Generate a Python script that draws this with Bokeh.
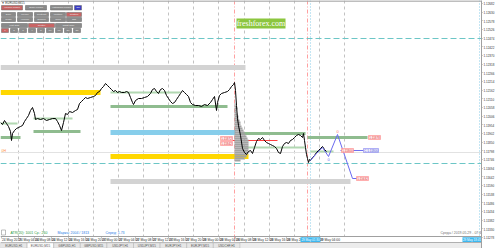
from bokeh.plotting import figure
from bokeh.models import FixedTicker, PrintfTickFormatter
from bokeh.embed import file_html
from bokeh.resources import INLINE

# ---------------- data (bar index, price) ----------------
price_x = [0, 2, 4, 6, 8, 10, 11, 12, 14, 16, 18, 20, 22, 24, 26, 28, 30, 32, 34, 35,
           37, 40, 43, 46, 49, 52, 55, 57, 59, 61, 63, 65, 67, 69, 72, 75, 77, 79, 81, 83,
           85, 87, 90, 93, 95, 97, 99, 101, 103, 105, 107, 109, 111, 113, 115, 117, 119, 121, 124, 126,
           128, 130, 132, 133, 135, 138, 141, 144, 147, 150, 152, 154, 156, 158, 160, 162, 164, 166, 168, 170,
           172, 174, 176, 178, 180, 182, 184, 186, 188, 190, 192, 195, 198, 201, 204, 207, 210, 212, 214, 216,
           217, 219, 221, 224, 227, 229, 231, 233, 234, 235, 236, 237, 238, 240, 242, 244, 246, 248, 250, 252,
           254, 256, 258, 260, 262, 264, 266, 268, 270, 272, 274, 276, 278, 280, 282, 284, 286, 288, 290, 292,
           294, 296, 298, 300, 302, 303, 304, 305, 306, 307, 308, 309, 310, 312, 314, 316, 318, 320, 322, 324, 326]
price_y = [1.11968, 1.11956, 1.11980, 1.11962, 1.11944, 1.11914, 1.11860, 1.11902, 1.11920, 1.11932,
           1.11938, 1.11944, 1.11950, 1.11974, 1.11992, 1.12010, 1.12040, 1.12058, 1.12022, 1.11986,
           1.11992, 1.11986, 1.11992, 1.11980, 1.11986, 1.11992, 1.11992, 1.11974, 1.11950, 1.11920,
           1.11968, 1.12022, 1.12016, 1.12034, 1.12028, 1.12040, 1.12046, 1.12082, 1.12094, 1.12106,
           1.12118, 1.12112, 1.12118, 1.12124, 1.12130, 1.12148, 1.12154, 1.12172, 1.12184, 1.12202,
           1.12190, 1.12178, 1.12166, 1.12154, 1.12160, 1.12148, 1.12154, 1.12148, 1.12148, 1.12154,
           1.12148, 1.12118, 1.12088, 1.12076, 1.12100, 1.12112, 1.12112, 1.12118, 1.12124, 1.12142,
           1.12166, 1.12172, 1.12154, 1.12142, 1.12166, 1.12172, 1.12160, 1.12130, 1.12112, 1.12094,
           1.12082, 1.12088, 1.12106, 1.12124, 1.12142, 1.12160, 1.12148, 1.12136, 1.12124, 1.12088,
           1.12076, 1.12070, 1.12070, 1.12064, 1.12076, 1.12070, 1.12088, 1.12106, 1.12124, 1.12040,
           1.12088, 1.12130, 1.12142, 1.12148, 1.12154, 1.12166, 1.12184, 1.12196, 1.12208, 1.12160,
           1.12070, 1.11992, 1.11950, 1.11890, 1.11812, 1.11788, 1.11776, 1.11794, 1.11800, 1.11782,
           1.11818, 1.11854, 1.11872, 1.11866, 1.11878, 1.11860, 1.11848, 1.11842, 1.11836, 1.11830,
           1.11824, 1.11812, 1.11788, 1.11782, 1.11824, 1.11842, 1.11848, 1.11842, 1.11860, 1.11866,
           1.11878, 1.11890, 1.11896, 1.11890, 1.11878, 1.11902, 1.11860, 1.11818, 1.11776, 1.11752,
           1.11728, 1.11746, 1.11740, 1.11758, 1.11770, 1.11788, 1.11800, 1.11812, 1.11824, 1.11806, 1.11794]

# projected wave (blue)
proj_x = [310, 316, 322, 328, 337, 352, 357]
proj_y = [1.11740, 1.11782, 1.11818, 1.11764, 1.11896, 1.11632, 1.11632]

# zones
gray_zone_x0 = [0, 110]
gray_zone_x1 = [245, 350]
gray_zone_y = [1.12298, 1.11614]
gold_zone_x0 = [0, 110]
gold_zone_x1 = [100, 248]
gold_zone_y = [1.12148, 1.11764]
blue_zone_x0 = [110]
blue_zone_x1 = [235]
blue_zone_y = [1.11908]

# support / resistance lines
green_strong_x0 = [0, 33, 110, 240, 307]
green_strong_x1 = [20, 80, 227, 305, 367]
green_strong_y = [1.11878, 1.11914, 1.12064, 1.11902, 1.11878]
green_weak_x0 = [0, 33, 110, 243, 310]
green_weak_x1 = [17, 72, 180, 305, 333]
green_weak_y = [1.11962, 1.11992, 1.12148, 1.11818, 1.11794]
red_level_x0 = [232]
red_level_x1 = [277]
red_level_y = [1.11860]
purple_level_x0 = [340]
purple_level_x1 = [363]
purple_level_y = [1.11800]
teal_levels = [1.12472, 1.11722]
bid_price = 1.11788

# volume profile
vp_price = [1.12076, 1.12064, 1.12052, 1.12040, 1.12028, 1.12016, 1.12004, 1.11992, 1.11980, 1.11968,
            1.11956, 1.11944, 1.11932, 1.11920, 1.11908, 1.11896, 1.11884, 1.11872, 1.11860, 1.11848,
            1.11836, 1.11824, 1.11812, 1.11800, 1.11788, 1.11776, 1.11764, 1.11752, 1.11740]
vp_bars = [1, 2, 3, 2, 2, 3, 4, 4, 5, 6, 6, 7, 8, 9, 10, 11, 12, 13, 14, 14,
           14, 14, 14, 14, 14, 13, 12, 10, 6]
vp_start = 234

# price tags
red_tag_x = [368, 356, 220, 220, 341]
red_tag_y = [1.11878, 1.11632, 1.11872, 1.11842, 1.11800]
red_tag_text = ["1.11878", "1.11632", "1.11872", "1.11842", "1.11800"]
purple_tag_x = [363]
purple_tag_y = [1.11800]
purple_tag_text = ["C 1.11800"]
wave_mark_x = [328, 337]
wave_mark_y = [1.11746, 1.11914]
wave_mark_text = ["0", "0"]

# vertical markers
grid_x = [18, 43, 68, 93, 118, 143, 168, 193, 218, 244, 269, 294, 319, 344]
day_sep_x = [234, 307]
cyan_x = [310, 479]

# axes / strips
price_ticks = [1.12682, 1.12630, 1.12578, 1.12526, 1.12474, 1.12422, 1.12370, 1.12318, 1.12266,
               1.12214, 1.12162, 1.12110, 1.12058, 1.12006, 1.11954, 1.11902, 1.11850, 1.11798,
               1.11746, 1.11694, 1.11642, 1.11590, 1.11538, 1.11486, 1.11434, 1.11382, 1.11330, 1.11278]
time_ticks = [1, 18, 34, 51, 68, 85, 101, 118, 135, 152, 168, 185, 202, 219, 235, 252, 269, 286, 302, 319]
time_labels = ["24 May 2019", "24 May 04:00", "24 May 08:00", "24 May 12:00", "24 May 16:00",
               "24 May 20:00", "27 May 00:00", "27 May 04:00", "27 May 08:00", "27 May 12:00",
               "27 May 16:00", "27 May 20:00", "28 May 00:00", "28 May 04:00", "28 May 08:00",
               "28 May 12:00", "28 May 16:00", "28 May 20:00", "29 May 00:00", "29 May 04:00"]
cursor_time_labels = ["29 May 01:30", "29 May 18:45"]
tab_names = ["EURUSD,H1", "EURUSD,M15", "GBPUSD,H1", "GBPUSD,M15", "USDJPY,H1",
             "USDJPY,M15", "EURJPY,H1", "EURJPY,M15", "USDCHF,H1"]

# ---------------- layout helpers (screen rows -> price) ----------------
TOP = 1.12700
ROW = 0.00006
FRAME_W = 481
FRAME_H = 248


def Y(py):
    return TOP - ROW * py


p = figure(width=500, height=FRAME_H, x_range=(0, FRAME_W), y_range=(Y(FRAME_H), Y(0)),
           output_backend="svg", toolbar_location=None, y_axis_location="right",
           x_axis_location=None, title=None,
           min_border_left=0, min_border_right=500 - FRAME_W, min_border_top=0, min_border_bottom=0)
p.outline_line_color = None
p.grid.visible = False

ay = p.yaxis[0]
ay.ticker = FixedTicker(ticks=price_ticks)
ay.formatter = PrintfTickFormatter(format="%.5f")
ay.major_label_text_font_size = "3px"
ay.major_label_text_color = "#303030"
ay.major_label_standoff = 1
ay.major_tick_out = 1
ay.major_tick_in = 0
ay.minor_tick_out = 0
ay.minor_tick_in = 0
ay.axis_line_color = "#a0a0a0"
ay.major_tick_line_color = "#a0a0a0"

CH_TOP, CH_BOT = 0, 236

# grid and vertical markers
p.segment(grid_x, Y(CH_TOP), grid_x, Y(CH_BOT), line_color="#c2c2c2", line_dash="3 3", line_width=1)
p.segment(day_sep_x, Y(CH_TOP), day_sep_x, Y(242), line_color="#ffa0a0", line_dash="4 2 1 2", line_width=1)
p.segment(cyan_x, Y(CH_TOP), cyan_x, Y(CH_BOT), line_color="#88cce8", line_dash="1 2", line_width=1)

# top border and horizontal levels
p.segment([0], [Y(0.6)], [FRAME_W], [Y(0.6)], line_color="#a8a8a8", line_width=1.5)
p.segment([0], [bid_price], [FRAME_W], [bid_price], line_color="#e2e2e2", line_width=1)
p.segment([0] * len(teal_levels), teal_levels, [FRAME_W] * len(teal_levels), teal_levels,
          line_color="#6cc6c6", line_dash="6 3", line_width=1)

# zones
p.segment(gray_zone_x0, gray_zone_y, gray_zone_x1, gray_zone_y, line_color="#d3d3d3", line_width=5)
p.segment(gold_zone_x0, gold_zone_y, gold_zone_x1, gold_zone_y, line_color="#ffd700", line_width=5)
p.segment(blue_zone_x0, blue_zone_y, blue_zone_x1, blue_zone_y, line_color="#87ceeb", line_width=5)
p.segment(green_weak_x0, green_weak_y, green_weak_x1, green_weak_y, line_color="#b2d8b2", line_width=2)
p.segment(green_strong_x0, green_strong_y, green_strong_x1, green_strong_y, line_color="#8fbc8f", line_width=3)
p.segment(red_level_x0, red_level_y, red_level_x1, red_level_y, line_color="#ff4040", line_width=1)
p.segment(purple_level_x0, purple_level_y, purple_level_x1, purple_level_y, line_color="#7070f0", line_width=1)

# volume profile
p.hbar(y=vp_price, left=vp_start, right=[vp_start + w for w in vp_bars], height=ROW * 2,
       fill_color="#a2a2a2", line_color=None)

# price line
p.line(price_x, price_y, line_color="black", line_width=1)

# projection
p.line(proj_x, proj_y, line_color="#6a6af0", line_width=1)

# tags
p.rect(x=[v + 6 for v in red_tag_x], y=red_tag_y, width=12, height=ROW * 4,
       fill_color="#ffe8e8", line_color="#ff8080", line_width=0.6)
p.text(x=[v + 6 for v in red_tag_x], y=red_tag_y, text=red_tag_text, text_font_size="3px",
       text_color="#e03030", text_align="center", text_baseline="middle")
p.rect(x=[v + 7.5 for v in purple_tag_x], y=purple_tag_y, width=15, height=ROW * 4,
       fill_color="#ececff", line_color="#8080f0", line_width=0.6)
p.text(x=[v + 7.5 for v in purple_tag_x], y=purple_tag_y, text=purple_tag_text, text_font_size="3px",
       text_color="#5050d0", text_align="center", text_baseline="middle")
p.text(x=wave_mark_x, y=wave_mark_y, text=wave_mark_text, text_font_size="4px",
       text_color=["#6a6af0", "#ff7070"], text_align="center", text_baseline="middle")
p.text(x=[1], y=[Y(150)], text=["0H"], text_font_size="3.5px", text_color="#ff8c40",
       text_baseline="middle")

# ---------------- terminal decorations ----------------
p.text(x=[1], y=[Y(2.6)], text=["\u25bc EURUSD,M15"], text_font_size="3px", text_color="#404040",
       text_baseline="middle")
buttons = [
    (1, 22, 5, 9.5, "Volume Profile", "#c86464"), (25, 46, 5, 9.5, "Order Profile", "#8a8a8a"),
    (50, 72, 5, 9.5, "Histogram Profile", "#8a8a8a"), (74, 81, 5, 9.5, "ON", "#3c3cc8"),
    (1, 15, 12, 16, "Daily", "#8a8a8a"), (17, 32, 12, 16, "Weekly", "#8a8a8a"),
    (34, 48, 12, 16, "Contract", "#8a8a8a"), (50, 65, 12, 16, "Multiple", "#8a8a8a"),
    (66, 81, 12, 16, "Custom", "#c86464"),
    (1, 15, 17, 21, "Close", "#8a8a8a"), (17, 32, 17, 21, "Volume", "#8a8a8a"),
    (34, 48, 17, 21, "Surface", "#8a8a8a"), (50, 65, 17, 21, "Ticks", "#8a8a8a"),
    (66, 81, 17, 21, "Diff", "#8a8a8a"),
    (1, 27, 23, 27, "Left Side", "#8a8a8a"), (28, 54, 23, 27, "Center", "#c86464"),
    (55, 81, 23, 27, "Right Side", "#8a8a8a"),
]
small = ["1", "2", "3", "4", "5", "10", "15", "20", "25"]
for i, s in enumerate(small):
    buttons.append((1 + 9 * i, 8 + 9 * i, 28, 32, s, "#c86464" if i == 0 else "#8a8a8a"))
p.quad(left=[b[0] for b in buttons], right=[b[1] for b in buttons],
       top=[Y(b[2]) for b in buttons], bottom=[Y(b[3]) for b in buttons],
       fill_color=[b[5] for b in buttons], line_color="#606060", line_width=0.5)
p.text(x=[(b[0] + b[1]) / 2 for b in buttons], y=[Y((b[2] + b[3]) / 2) for b in buttons],
       text=[b[4] for b in buttons], text_font_size="2.5px", text_color="#eeeeee",
       text_align="center", text_baseline="middle")

# logo
p.quad(left=[236], right=[285], top=[Y(18)], bottom=[Y(28)], fill_color="#8cc63f", line_color=None)
p.text(x=[260.5], y=[Y(23)], text=["freshforex.com"], text_font_size="8px", text_color="white",
       text_align="center", text_baseline="middle", text_font="Arial")

# status line
p.quad(left=[1], right=[5], top=[Y(229.5)], bottom=[Y(234.5)], fill_color="white",
       line_color="#909090", line_width=0.6)
p.text(x=[10, 57, 105], y=[Y(232.5)] * 3,
       text=["ATR(20): 1001  Ср.: 260", "Маржа: 2004 / 1813", "Спред: 1.73"],
       text_font_size="3.5px", text_color=["#2e9a3e", "#2c7be5", "#2c7be5"], text_baseline="middle")
p.text(x=[440], y=[Y(232.5)], text=["Среда / 2019.05.29 - 07:40:09"], text_font_size="3.5px",
       text_color="#707070", text_baseline="middle")

# ---------------- time strip ----------------
p.segment([0], [Y(CH_BOT)], [FRAME_W], [Y(CH_BOT)], line_color="#a0a0a0", line_width=1)
p.segment(time_ticks, Y(CH_BOT), time_ticks, Y(238), line_color="#a0a0a0", line_width=0.6)
p.text(x=[v + 0.5 for v in time_ticks], y=[Y(239.3)] * len(time_ticks), text=time_labels,
       text_font_size="3.3px", text_color="#303030", text_baseline="middle")
p.quad(left=[300, 462], right=[320, 481], top=Y(236.8), bottom=Y(241.6), fill_color="#3cb8f0",
       line_color=None)
p.text(x=[310, 471.5], y=[Y(239.3)] * 2, text=cursor_time_labels, text_font_size="3px",
       text_color="white", text_align="center", text_baseline="middle")

# ---------------- tab strip ----------------
tab_w = 26.6
tab_left = [i * tab_w for i in range(len(tab_names))]
tab_right = [(i + 1) * tab_w for i in range(len(tab_names))]
tab_fill = ["white" if i == 1 else "#e6e6e6" for i in range(len(tab_names))]
p.quad(left=[0], right=[FRAME_W], top=[Y(242)], bottom=[Y(FRAME_H)], fill_color="#ececec", line_color=None)
p.segment([0], [Y(242)], [FRAME_W], [Y(242)], line_color="#b0b0b0", line_width=1)
p.quad(left=tab_left, right=tab_right, top=[Y(242.3)] * len(tab_names), bottom=[Y(247.8)] * len(tab_names),
       fill_color=tab_fill, line_color="#b8b8b8", line_width=0.6)
p.text(x=[(a + b) / 2 for a, b in zip(tab_left, tab_right)], y=[Y(245.1)] * len(tab_names), text=tab_names,
       text_font_size="3px", text_color="#505050", text_align="center", text_baseline="middle")

open("out.html", "w").write(file_html(p, INLINE))
